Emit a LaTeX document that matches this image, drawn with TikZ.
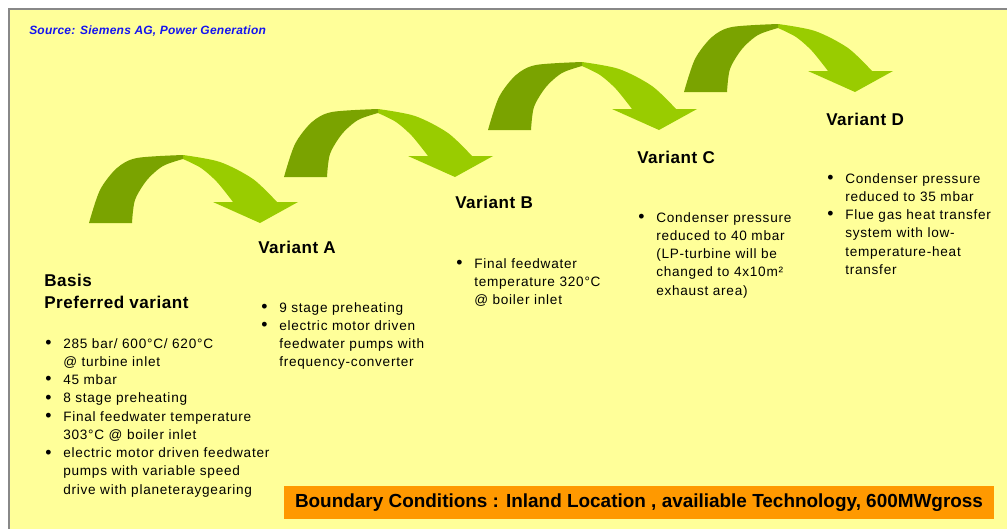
\documentclass[tikz,border=0pt]{standalone}
\usepackage{fontspec}
\setmainfont{Liberation Sans}
\newfontfamily\bodyfont[LetterSpace=5.5]{Liberation Sans}
\newfontfamily\headfont[LetterSpace=3]{Liberation Sans}
\newfontfamily\srcfont[LetterSpace=2]{Liberation Sans}
\definecolor{bgyellow}{RGB}{255,255,153}
\definecolor{framegray}{RGB}{136,136,136}
\definecolor{darkgreen}{RGB}{122,163,0}
\definecolor{lightgreen}{RGB}{153,204,0}
\definecolor{boxorange}{RGB}{255,153,0}
\definecolor{srcblue}{RGB}{20,20,240}
\newcommand\blist[1]{\begin{tabular}[t]{@{}p{13.5pt}@{}l@{}}#1\end{tabular}}
\newcommand\hlines[1]{\begin{tabular}[t]{@{}l@{}}#1\end{tabular}}
\newcommand\bul{\raisebox{-0.3pt}{\scalebox{1.3}{•}}}
\tikzset{
  heading/.style={anchor=base west, inner sep=0pt, font=\headfont\bfseries\fontsize{12.8}{15.7}\selectfont},
  bodytext/.style={anchor=base west, inner sep=0pt, font=\bodyfont\fontsize{10.2}{13.7}\selectfont},
  source/.style={anchor=base west, inner sep=0pt, text=srcblue, font=\srcfont\bfseries\itshape\fontsize{9}{11}\selectfont},
  boundary/.style={fill=boxorange, inner sep=0pt, minimum width=532.5pt, minimum height=24.75pt, font=\bfseries\fontsize{14.2}{16}\selectfont},
  curvarrow/.pic={
    \fill[lightgreen] plot[smooth] coordinates {(94,-68) (131,-61) (164,-44) (188,-21)}
      -- (209,-21) -- (171,0) -- (124,-21) -- (144,-21)
      -- plot[smooth] coordinates {(144,-21) (128,-41) (112,-55) (94,-64)} -- cycle;
    \fill[darkgreen] plot[smooth] coordinates {(0,0) (11,-33) (28,-55) (48,-65) (94,-68)}
      -- plot[smooth] coordinates {(94,-64) (74,-57) (58,-43) (46,-23) (43,0)} -- cycle;
  }
}
\begin{document}
\begin{tikzpicture}[x=0.75pt,y=-0.75pt]
\useasboundingbox (0,0) rectangle (1007,529);
\fill[bgyellow] (9,9) rectangle (1007,529);
\draw[framegray, line width=1.2pt] (1007,9) -- (9,9) -- (9,529);

\node[source] (src) at (29,34) {Source: Siemens AG, Power Generation};

\pic at (89,223) {curvarrow};
\pic at (284,177) {curvarrow};
\pic at (488,130) {curvarrow};
\pic at (684,92) {curvarrow};

\node[heading] (hbasis) at (44,286) {\hlines{Basis\\[1pt]Preferred variant}};
\node[bodytext] (lbasis) at (45,348) {\blist{%
 \bul & 285 bar/ 600°C/ 620°C\\
   & @ turbine inlet\\
 \bul & 45 mbar\\
 \bul & 8 stage preheating\\
 \bul & Final feedwater temperature\\
   & 303°C @ boiler inlet\\
 \bul & electric motor driven feedwater\\
   & pumps with variable speed\\
   & drive with planeteraygearing}};

\node[heading] (hA) at (258,253) {Variant A};
\node[bodytext] (lA) at (261,312) {\blist{%
 \bul & 9 stage preheating\\
 \bul & electric motor driven\\
   & feedwater pumps with\\
   & frequency-converter}};

\node[heading] (hB) at (455,208) {Variant B};
\node[bodytext] (lB) at (456,268) {\blist{%
 \bul & Final feedwater\\
   & temperature 320°C\\
   & @ boiler inlet}};

\node[heading] (hC) at (637,163) {Variant C};
\node[bodytext] (lC) at (638,222) {\blist{%
 \bul & Condenser pressure\\
   & reduced to 40 mbar\\
   & (LP-turbine will be\\
   & changed to 4x10m²\\
   & exhaust area)}};

\node[heading] (hD) at (826,125) {Variant D};
\node[bodytext] (lD) at (827,183) {\blist{%
 \bul & Condenser pressure\\
   & reduced to 35 mbar\\
 \bul & Flue gas heat transfer\\
   & system with low-\\
   & temperature-heat\\
   & transfer}};

\node[boundary] (bc) at (639,502.5) {Boundary Conditions : Inland Location , availiable Technology, 600MWgross};
\end{tikzpicture}
\end{document}
